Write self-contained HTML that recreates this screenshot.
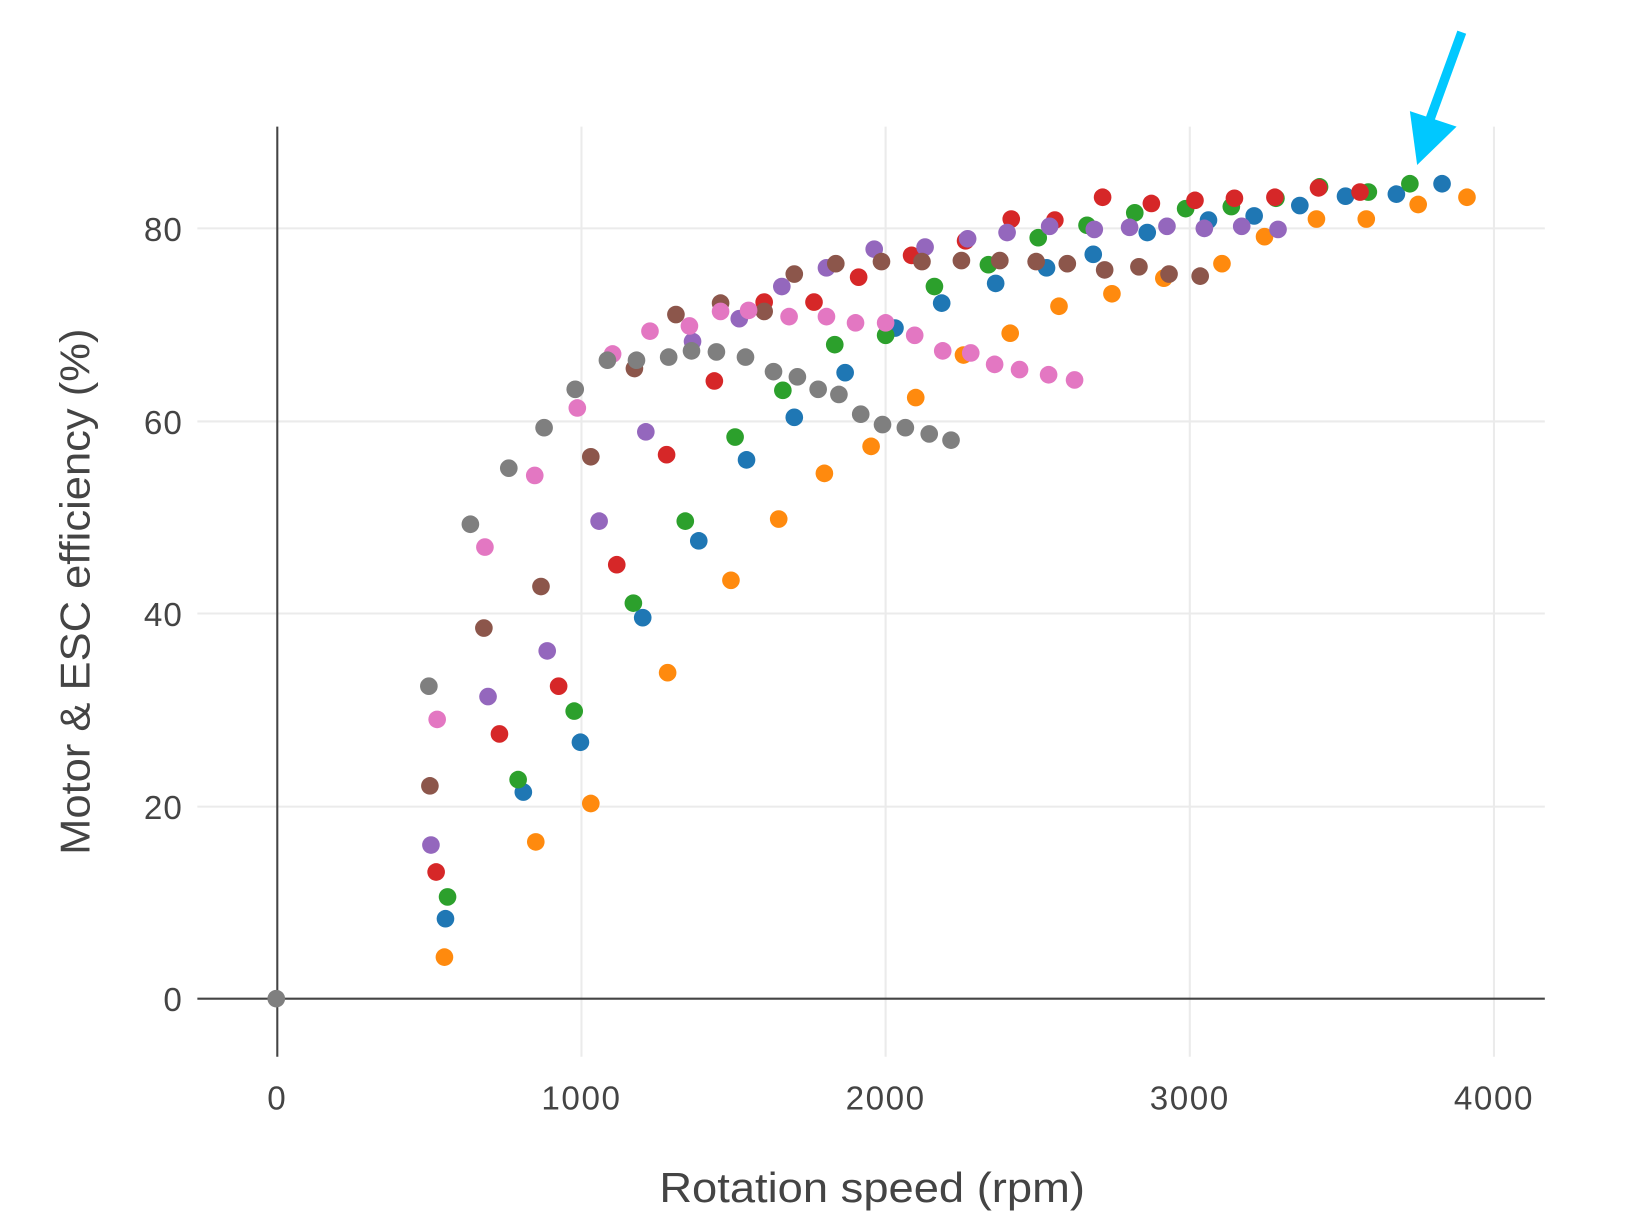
<!DOCTYPE html>
<html><head><meta charset="utf-8"><style>html,body{margin:0;padding:0;background:#fff}svg{display:block}</style></head><body>
<svg width="1628" height="1226" viewBox="0 0 1568 1181" xmlns="http://www.w3.org/2000/svg" font-family="'Liberation Sans', sans-serif">
<rect width="1568" height="1181" fill="#fff"/>
<g stroke="#ebebeb" stroke-width="2">
<line x1="190" y1="220" x2="1488" y2="220"/><line x1="190" y1="406" x2="1488" y2="406"/><line x1="190" y1="591" x2="1488" y2="591"/><line x1="190" y1="777" x2="1488" y2="777"/>
<line x1="560" y1="122" x2="560" y2="1018"/><line x1="853" y1="122" x2="853" y2="1018"/><line x1="1146" y1="122" x2="1146" y2="1018"/><line x1="1439" y1="122" x2="1439" y2="1018"/>
</g>
<g stroke="#444" stroke-width="2"><line x1="267" y1="122" x2="267" y2="1018"/><line x1="190" y1="962" x2="1488" y2="962"/></g>
<g fill="#444" font-size="32" text-anchor="end" letter-spacing="1">
<text x="176" y="232">80</text><text x="176" y="418">60</text><text x="176" y="603">40</text><text x="176" y="789">20</text><text x="176" y="974">0</text>
</g>
<g fill="#444" font-size="32" text-anchor="middle" letter-spacing="1.5">
<text x="267" y="1069">0</text><text x="560" y="1069">1000</text><text x="853" y="1069">2000</text><text x="1146" y="1069">3000</text><text x="1439" y="1069">4000</text>
</g>
<g fill="#444" text-anchor="middle">
<text x="840" y="1158" font-size="40" textLength="410" lengthAdjust="spacingAndGlyphs">Rotation speed (rpm)</text>
<text transform="translate(86,570) rotate(-90)" font-size="40" textLength="507" lengthAdjust="spacingAndGlyphs">Motor &amp; ESC efficiency (%)</text>
</g>
<g fill="#ff8a0e">
<circle cx="428" cy="922" r="8.5"/><circle cx="516" cy="811" r="8.5"/><circle cx="569" cy="774" r="8.5"/><circle cx="643" cy="648" r="8.5"/><circle cx="704" cy="559" r="8.5"/><circle cx="750" cy="500" r="8.5"/><circle cx="794" cy="456" r="8.5"/><circle cx="839" cy="430" r="8.5"/><circle cx="882" cy="383" r="8.5"/><circle cx="928" cy="342" r="8.5"/><circle cx="973" cy="321" r="8.5"/><circle cx="1020" cy="295" r="8.5"/><circle cx="1071" cy="283" r="8.5"/><circle cx="1121" cy="268" r="8.5"/><circle cx="1177" cy="254" r="8.5"/><circle cx="1218" cy="228" r="8.5"/><circle cx="1268" cy="211" r="8.5"/><circle cx="1316" cy="211" r="8.5"/><circle cx="1366" cy="197" r="8.5"/><circle cx="1413" cy="190" r="8.5"/>
</g>
<g fill="#1f77b4">
<circle cx="429" cy="885" r="8.5"/><circle cx="504" cy="763" r="8.5"/><circle cx="559" cy="715" r="8.5"/><circle cx="619" cy="595" r="8.5"/><circle cx="673" cy="521" r="8.5"/><circle cx="719" cy="443" r="8.5"/><circle cx="765" cy="402" r="8.5"/><circle cx="814" cy="359" r="8.5"/><circle cx="862" cy="316" r="8.5"/><circle cx="907" cy="292" r="8.5"/><circle cx="959" cy="273" r="8.5"/><circle cx="1008" cy="258" r="8.5"/><circle cx="1053" cy="245" r="8.5"/><circle cx="1105" cy="224" r="8.5"/><circle cx="1164" cy="212" r="8.5"/><circle cx="1208" cy="208" r="8.5"/><circle cx="1252" cy="198" r="8.5"/><circle cx="1296" cy="189" r="8.5"/><circle cx="1345" cy="187" r="8.5"/><circle cx="1389" cy="177" r="8.5"/>
</g>
<g fill="#2ca02c">
<circle cx="431" cy="864" r="8.5"/><circle cx="499" cy="751" r="8.5"/><circle cx="553" cy="685" r="8.5"/><circle cx="610" cy="581" r="8.5"/><circle cx="660" cy="502" r="8.5"/><circle cx="708" cy="421" r="8.5"/><circle cx="754" cy="376" r="8.5"/><circle cx="804" cy="332" r="8.5"/><circle cx="853" cy="323" r="8.5"/><circle cx="900" cy="276" r="8.5"/><circle cx="952" cy="255" r="8.5"/><circle cx="1000" cy="229" r="8.5"/><circle cx="1047" cy="217" r="8.5"/><circle cx="1093" cy="205" r="8.5"/><circle cx="1142" cy="201" r="8.5"/><circle cx="1186" cy="199" r="8.5"/><circle cx="1229" cy="191" r="8.5"/><circle cx="1271" cy="180" r="8.5"/><circle cx="1318" cy="185" r="8.5"/><circle cx="1358" cy="177" r="8.5"/>
</g>
<g fill="#d62728">
<circle cx="420" cy="840" r="8.5"/><circle cx="481" cy="707" r="8.5"/><circle cx="538" cy="661" r="8.5"/><circle cx="594" cy="544" r="8.5"/><circle cx="642" cy="438" r="8.5"/><circle cx="688" cy="367" r="8.5"/><circle cx="736" cy="291" r="8.5"/><circle cx="784" cy="291" r="8.5"/><circle cx="827" cy="267" r="8.5"/><circle cx="878" cy="246" r="8.5"/><circle cx="930" cy="232" r="8.5"/><circle cx="974" cy="211" r="8.5"/><circle cx="1016" cy="212" r="8.5"/><circle cx="1062" cy="190" r="8.5"/><circle cx="1109" cy="196" r="8.5"/><circle cx="1151" cy="193" r="8.5"/><circle cx="1189" cy="191" r="8.5"/><circle cx="1228" cy="190" r="8.5"/><circle cx="1270" cy="181" r="8.5"/><circle cx="1310" cy="185" r="8.5"/>
</g>
<g fill="#9467bd">
<circle cx="415" cy="814" r="8.5"/><circle cx="470" cy="671" r="8.5"/><circle cx="527" cy="627" r="8.5"/><circle cx="577" cy="502" r="8.5"/><circle cx="622" cy="416" r="8.5"/><circle cx="667" cy="329" r="8.5"/><circle cx="712" cy="307" r="8.5"/><circle cx="753" cy="276" r="8.5"/><circle cx="796" cy="258" r="8.5"/><circle cx="842" cy="240" r="8.5"/><circle cx="891" cy="238" r="8.5"/><circle cx="932" cy="230" r="8.5"/><circle cx="970" cy="224" r="8.5"/><circle cx="1011" cy="218" r="8.5"/><circle cx="1054" cy="221" r="8.5"/><circle cx="1088" cy="219" r="8.5"/><circle cx="1124" cy="218" r="8.5"/><circle cx="1160" cy="220" r="8.5"/><circle cx="1196" cy="218" r="8.5"/><circle cx="1231" cy="221" r="8.5"/>
</g>
<g fill="#8c564b">
<circle cx="414" cy="757" r="8.5"/><circle cx="466" cy="605" r="8.5"/><circle cx="521" cy="565" r="8.5"/><circle cx="569" cy="440" r="8.5"/><circle cx="611" cy="355" r="8.5"/><circle cx="651" cy="303" r="8.5"/><circle cx="694" cy="292" r="8.5"/><circle cx="736" cy="300" r="8.5"/><circle cx="765" cy="264" r="8.5"/><circle cx="805" cy="254" r="8.5"/><circle cx="849" cy="252" r="8.5"/><circle cx="888" cy="252" r="8.5"/><circle cx="926" cy="251" r="8.5"/><circle cx="963" cy="251" r="8.5"/><circle cx="998" cy="252" r="8.5"/><circle cx="1028" cy="254" r="8.5"/><circle cx="1064" cy="260" r="8.5"/><circle cx="1097" cy="257" r="8.5"/><circle cx="1126" cy="264" r="8.5"/><circle cx="1156" cy="266" r="8.5"/>
</g>
<g fill="#e377c2">
<circle cx="421" cy="693" r="8.5"/><circle cx="467" cy="527" r="8.5"/><circle cx="515" cy="458" r="8.5"/><circle cx="556" cy="393" r="8.5"/><circle cx="590" cy="341" r="8.5"/><circle cx="626" cy="319" r="8.5"/><circle cx="664" cy="314" r="8.5"/><circle cx="694" cy="300" r="8.5"/><circle cx="721" cy="299" r="8.5"/><circle cx="760" cy="305" r="8.5"/><circle cx="796" cy="305" r="8.5"/><circle cx="824" cy="311" r="8.5"/><circle cx="853" cy="311" r="8.5"/><circle cx="881" cy="323" r="8.5"/><circle cx="908" cy="338" r="8.5"/><circle cx="935" cy="340" r="8.5"/><circle cx="958" cy="351" r="8.5"/><circle cx="982" cy="356" r="8.5"/><circle cx="1010" cy="361" r="8.5"/><circle cx="1035" cy="366" r="8.5"/>
</g>
<g fill="#7f7f7f">
<circle cx="266" cy="962" r="8.5"/><circle cx="413" cy="661" r="8.5"/><circle cx="453" cy="505" r="8.5"/><circle cx="490" cy="451" r="8.5"/><circle cx="524" cy="412" r="8.5"/><circle cx="554" cy="375" r="8.5"/><circle cx="585" cy="347" r="8.5"/><circle cx="613" cy="347" r="8.5"/><circle cx="644" cy="344" r="8.5"/><circle cx="666" cy="338" r="8.5"/><circle cx="690" cy="339" r="8.5"/><circle cx="718" cy="344" r="8.5"/><circle cx="745" cy="358" r="8.5"/><circle cx="768" cy="363" r="8.5"/><circle cx="788" cy="375" r="8.5"/><circle cx="808" cy="380" r="8.5"/><circle cx="829" cy="399" r="8.5"/><circle cx="850" cy="409" r="8.5"/><circle cx="872" cy="412" r="8.5"/><circle cx="895" cy="418" r="8.5"/><circle cx="916" cy="424" r="8.5"/>
</g>
<g fill="#00c8ff"><line x1="1408" y1="31" x2="1377" y2="116" stroke="#00c8ff" stroke-width="9"/><polygon points="1365,159 1358,107 1403,122"/></g>
</svg>
</body></html>
